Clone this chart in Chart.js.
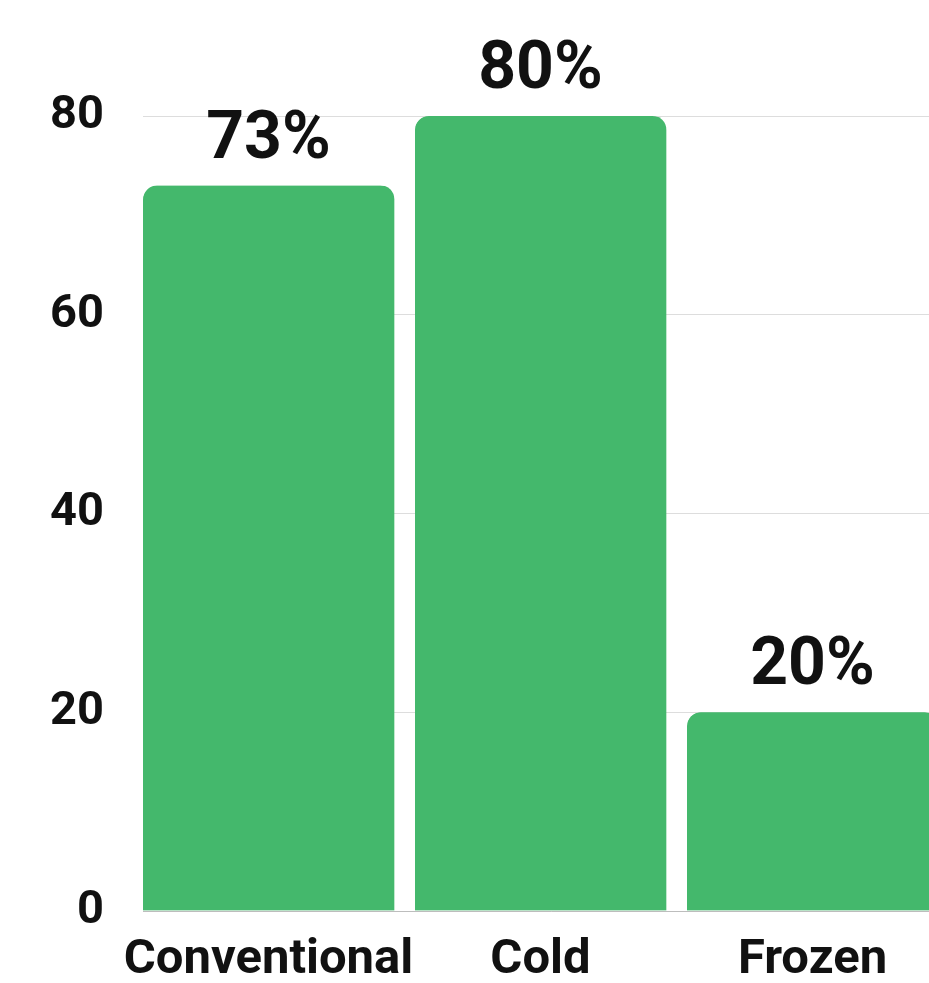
<!DOCTYPE html>
<html>
<head>
<meta charset="utf-8">
<script src="https://cdn.jsdelivr.net/npm/chart.js@4.4.1/dist/chart.umd.min.js"></script>
<style>
  html, body { margin: 0; padding: 0; background: #ffffff; overflow: hidden; }
  #wrap { position: relative; width: 959px; height: 983px; }
</style>
</head>
<body>
<div id="wrap"><canvas id="c"></canvas></div>
<script>
const categories = ['Conventional', 'Cold', 'Frozen'];
const values = [73, 80, 20];
const yTickValues = [0, 20, 40, 60, 80];

const GREEN = '#44b86c';
const TEXT = '#111111';
const GAP = 21;

const valueLabels = {
  id: 'valueLabels',
  afterDatasetsDraw(chart) {
    const ctx = chart.ctx;
    const meta = chart.getDatasetMeta(0);
    ctx.save();
    ctx.font = 'bold 66px Roboto';
    ctx.fillStyle = TEXT;
    ctx.textAlign = 'center';
    ctx.textBaseline = 'alphabetic';
    meta.data.forEach((el, i) => {
      const p = el.getProps(['x', 'y', 'width'], true);
      const cx = p.x - GAP / 2;
      ctx.fillText(values[i] + '%', cx, p.y - 28);
    });
    ctx.restore();
  }
};

new Chart(document.getElementById('c'), {
  type: 'bar',
  data: {
    labels: categories,
    datasets: [{
      data: values,
      backgroundColor: GREEN,
      borderColor: 'rgba(0,0,0,0)',
      borderWidth: { top: 0, right: GAP, bottom: 0, left: 0 },
      borderRadius: { topLeft: 14, topRight: 14 + GAP, bottomLeft: 0, bottomRight: 0 },
      borderSkipped: 'start',
      categoryPercentage: 1,
      barPercentage: 1
    }]
  },
  options: {
    responsive: true,
    maintainAspectRatio: false,
    animation: false,
    layout: { padding: { top: 116, right: 0, bottom: 0, left: 0 } },
    plugins: {
      legend: { display: false },
      tooltip: { enabled: false }
    },
    scales: {
      x: {
        offset: true,
        grid: { display: false },
        border: { display: true, color: '#bdbdbd', width: 1 },
        ticks: {
          color: TEXT,
          font: { family: 'Roboto', size: 49, weight: 'bold' },
          padding: 12,
          labelOffset: -GAP / 2,
          maxRotation: 0,
          autoSkip: false
        },
        afterFit(s) { s.height = 72; }
      },
      y: {
        min: 0,
        max: 80,
        afterBuildTicks(s) { s.ticks = yTickValues.map(v => ({ value: v })); },
        grid: { color: '#dddddd', lineWidth: 1, drawTicks: false },
        border: { display: false },
        ticks: {
          color: TEXT,
          font: { family: 'Roboto', size: 47, weight: 'bold' },
          padding: 39
        },
        afterFit(s) { s.width = 143; }
      }
    }
  },
  plugins: [valueLabels]
});
</script>
</body>
</html>
